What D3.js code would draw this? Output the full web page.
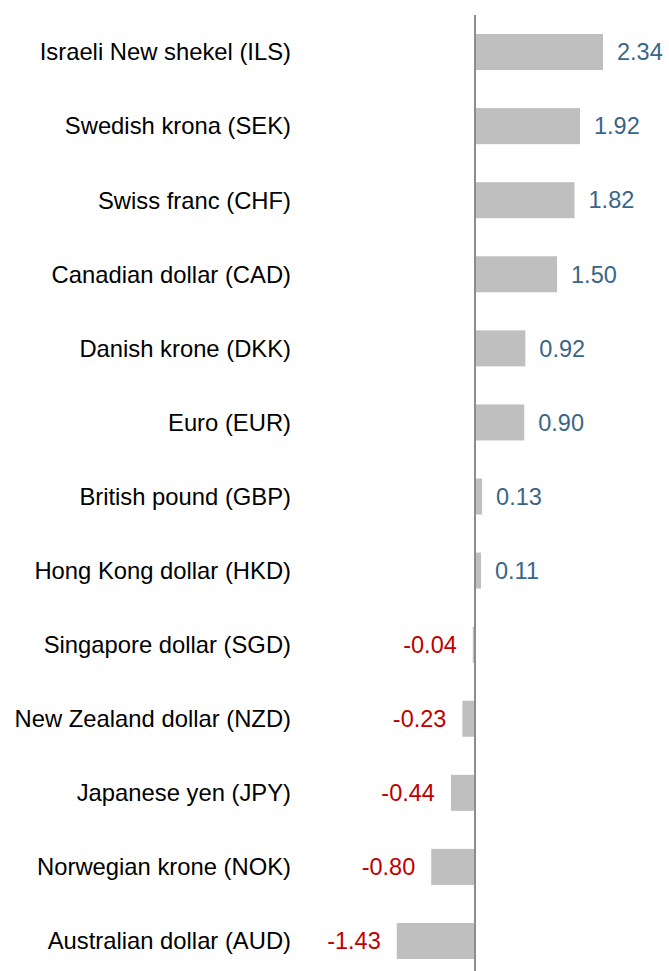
<!DOCTYPE html>
<html>
<head>
<meta charset="utf-8">
<script src="https://cdn.jsdelivr.net/npm/d3@7"></script>
<style>
  html, body { margin: 0; padding: 0; background: #fff; }
  svg { display: block; }
</style>
</head>
<body>
<svg id="chart" width="669" height="971"></svg>
<script>
const currencies = [
  "Israeli New shekel (ILS)",
  "Swedish krona (SEK)",
  "Swiss franc (CHF)",
  "Canadian dollar (CAD)",
  "Danish krone (DKK)",
  "Euro (EUR)",
  "British pound (GBP)",
  "Hong Kong dollar (HKD)",
  "Singapore dollar (SGD)",
  "New Zealand dollar (NZD)",
  "Japanese yen (JPY)",
  "Norwegian krone (NOK)",
  "Australian dollar (AUD)"
];
const changes = [2.34, 1.92, 1.82, 1.50, 0.92, 0.90, 0.13, 0.11, -0.04, -0.23, -0.44, -0.80, -1.43];

const svg = d3.select("#chart");
const font = "'Liberation Sans', Arial, sans-serif";

const x = d3.scaleLinear().domain([-1.5, 2.5]).range([475 - 1.5 * 54.7, 475 + 2.5 * 54.7]);
const y = d3.scaleBand().domain(currencies).range([15, 15 + 13 * 74.08])
  .paddingInner(0.514).paddingOuter(0.257);

const rows = currencies.map((c, i) => ({ name: c, value: changes[i] }));
// plain hyphen for negatives
const fmt = v => (v < 0 ? "-" : "") + Math.abs(v).toFixed(2);

// bars
svg.append("g").selectAll("rect").data(rows).join("rect")
  .attr("x", d => Math.min(x(0), x(d.value)))
  .attr("width", d => Math.abs(x(d.value) - x(0)))
  .attr("y", d => y(d.name))
  .attr("height", y.bandwidth())
  .attr("fill", "#bfbfbf");

// zero axis
svg.append("line")
  .attr("x1", x(0)).attr("x2", x(0))
  .attr("y1", 15).attr("y2", 971)
  .attr("stroke", "#8c8c8c").attr("stroke-width", 2);

// category labels
svg.append("g").selectAll("text").data(rows).join("text")
  .attr("x", 291)
  .attr("y", d => y(d.name) + y.bandwidth() / 2)
  .attr("dy", "0.35em")
  .attr("text-anchor", "end")
  .attr("font-family", font)
  .attr("font-size", 23.8)
  .attr("fill", "#000")
  .text(d => d.name);

// value labels
svg.append("g").selectAll("text").data(rows).join("text")
  .attr("x", d => d.value >= 0 ? x(d.value) + 14 : x(d.value) - 16)
  .attr("y", d => y(d.name) + y.bandwidth() / 2)
  .attr("dy", "0.35em")
  .attr("text-anchor", d => d.value >= 0 ? "start" : "end")
  .attr("font-family", font)
  .attr("font-size", 23.5)
  .attr("fill", d => d.value >= 0 ? "#3a6587" : "#c00000")
  .text(d => fmt(d.value));
</script>
</body>
</html>
